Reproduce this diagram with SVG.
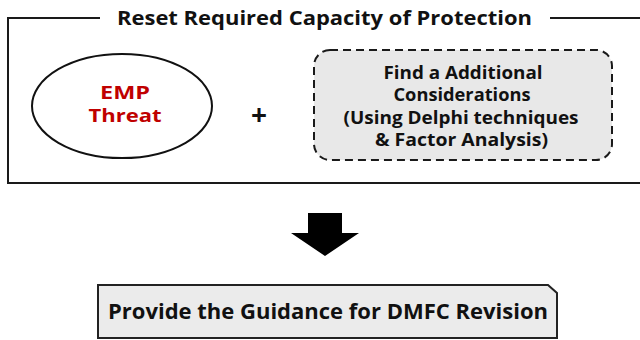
<svg xmlns="http://www.w3.org/2000/svg" width="640" height="340" viewBox="0 0 640 340">
  <style>
    .t { font-family: "Open Sans", "Noto Sans", "DejaVu Sans", sans-serif; font-weight: 700; fill: #111; text-anchor: middle; }
    .red { fill: #c00000; }
    .frame { fill: none; stroke: #1a1a1a; stroke-width: 2; }
  </style>

  <rect width="640" height="340" fill="#ffffff"/>

  <!-- outer frame with a gap for its title -->
  <g id="frame">
    <path class="frame" d="M100,18 H8 V183 H642"/>
    <path class="frame" d="M550,18 H642"/>
    <text class="t" x="324.5" y="25" font-size="20" textLength="415" lengthAdjust="spacingAndGlyphs">Reset Required Capacity of Protection</text>
  </g>

  <g id="emp-threat">
    <ellipse cx="122" cy="106" rx="90" ry="52" fill="#ffffff" stroke="#111" stroke-width="2"/>
    <text class="t red" x="125" y="98.5" font-size="17.5" textLength="50" lengthAdjust="spacingAndGlyphs">EMP</text>
    <text class="t red" x="125" y="122" font-size="17.5" textLength="73" lengthAdjust="spacingAndGlyphs">Threat</text>
  </g>

  <g id="plus">
    <text class="t" x="259" y="125" font-size="28">+</text>
  </g>

  <g id="considerations">
    <rect x="314" y="50" width="298" height="110" rx="16" ry="16" fill="#e8e8e8" stroke="#1a1a1a" stroke-width="2" stroke-dasharray="8 5"/>
    <text class="t" x="463" y="79" font-size="17.5" textLength="159" lengthAdjust="spacingAndGlyphs">Find a Additional</text>
    <text class="t" x="462" y="101" font-size="17.5" textLength="137" lengthAdjust="spacingAndGlyphs">Considerations</text>
    <text class="t" x="461" y="124" font-size="17.5" textLength="235" lengthAdjust="spacingAndGlyphs">(Using Delphi techniques</text>
    <text class="t" x="461.5" y="146" font-size="17.5" textLength="173" lengthAdjust="spacingAndGlyphs">&amp; Factor Analysis)</text>
  </g>

  <g id="connectors">
    <polygon points="308,213 342,213 342,233 359,233 325,256 291,233 308,233" fill="#000"/>
  </g>

  <g id="guidance">
    <path d="M98,285 H548 L557,293 V338 H98 Z" fill="#ebebeb" stroke="#222" stroke-width="2"/>
    <text class="t" x="328" y="319" font-size="20.5" textLength="440" lengthAdjust="spacingAndGlyphs">Provide the Guidance for DMFC Revision</text>
  </g>
</svg>
